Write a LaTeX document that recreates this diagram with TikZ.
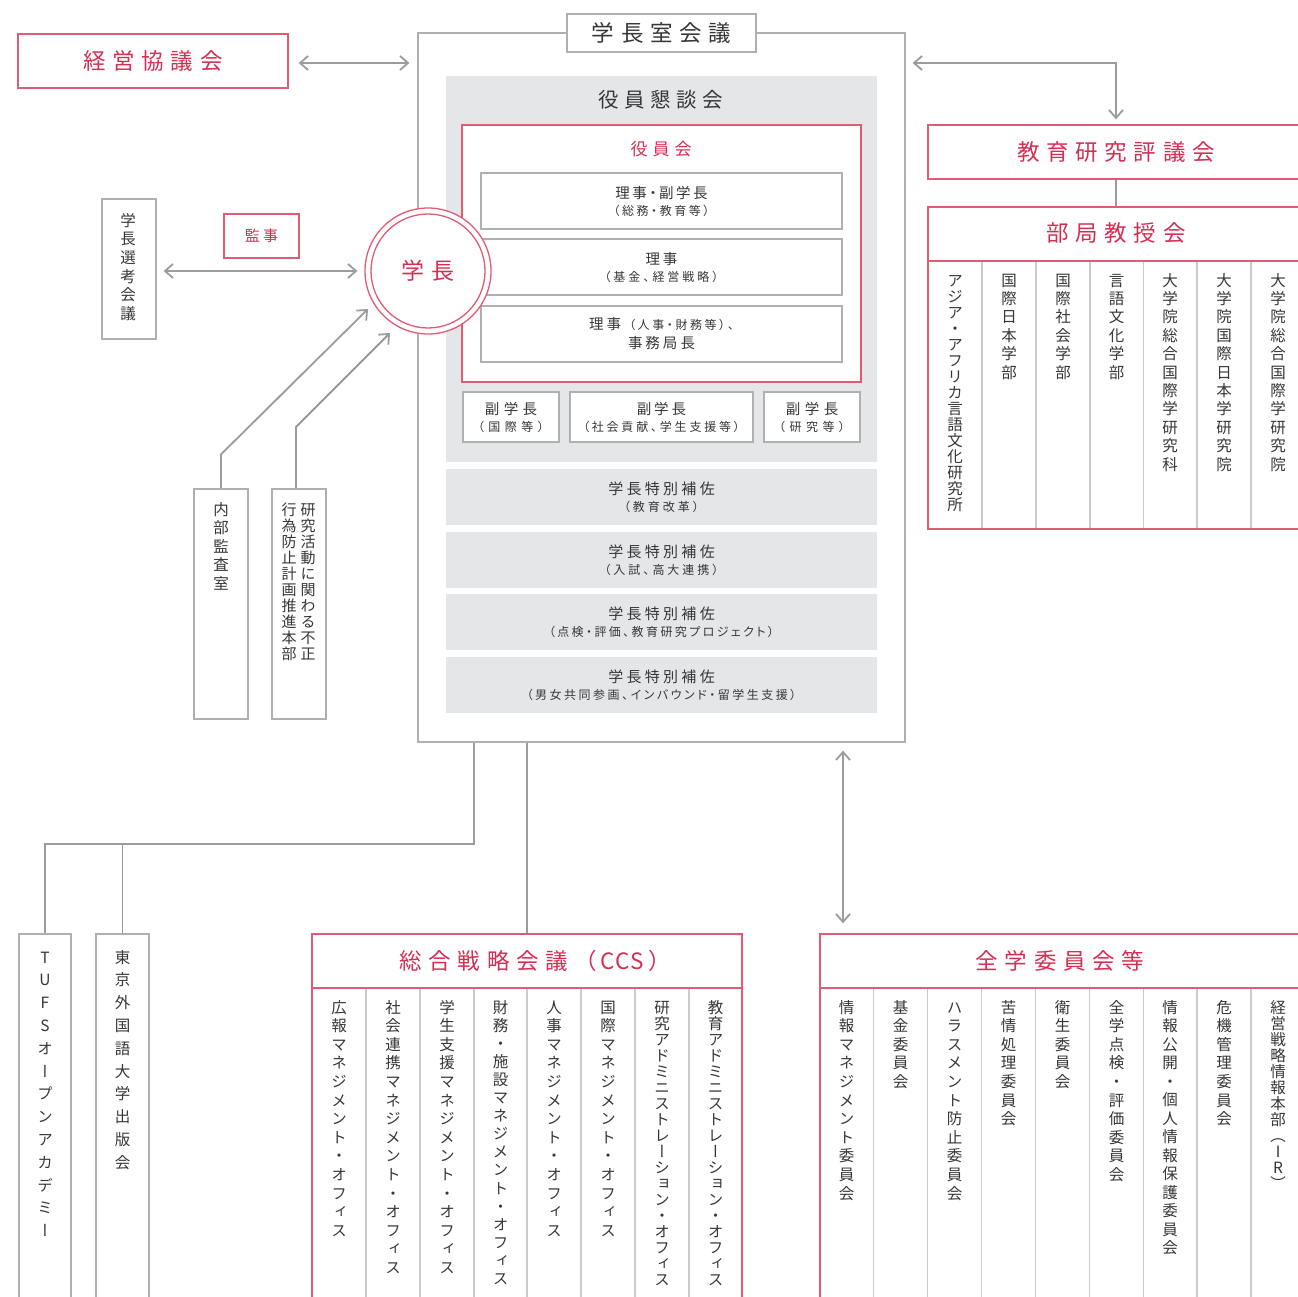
\documentclass[tikz,border=0pt]{standalone}
\usepackage{fontspec}
\setmainfont[RawFeature=+palt]{Noto Sans CJK JP}
\newfontfamily\jpvert[RawFeature=+vert]{Noto Sans CJK JP}
\usetikzlibrary{arrows.meta}
\definecolor{jred}{RGB}{214,46,82}
\definecolor{bred}{RGB}{224,92,116}
\definecolor{lgray}{RGB}{176,176,180}
\definecolor{cgray}{RGB}{155,155,160}
\definecolor{dgray}{RGB}{203,203,206}
\definecolor{fgray}{RGB}{229,230,232}
\definecolor{txt}{RGB}{55,55,55}
\def\jspk{0pt}
\newcommand\jsp[2]{\def\jspk{#1}\jsploop#2\relax\kern-\jspk\relax}
\def\jsploop#1{\ifx\relax#1\else#1\kern\jspk\relax\expandafter\jsploop\fi}
\newcommand\jvt[2]{\vtop{\baselineskip=#1\relax\lineskiplimit=-100pt\lineskip=0pt\relax\jvtloop#2\relax}}
\def\jvtloop#1{\ifx\relax#1\else\hbox to 1em{\hss#1\hss}\expandafter\jvtloop\fi}
\begin{document}
\begin{tikzpicture}[x=1pt,y=-1pt,
  redbox/.style={draw=bred,line width=1.4pt,fill=white,inner sep=0pt},
  graybox/.style={draw=lgray,line width=1.3pt,fill=white,inner sep=0pt},
  fillbox/.style={fill=fgray,inner sep=0pt},
  conn/.style={draw=cgray,line width=1.8pt},
  arr2/.style={conn,{Straight Barb[length=8pt,width=14pt]}-{Straight Barb[length=8pt,width=14pt]}},
  arr1/.style={conn,-{Straight Barb[length=8pt,width=14pt]}},
  divider/.style={draw=dgray,line width=1.3pt},
  redline/.style={draw=bred,line width=1.4pt},
  vcol/.style={anchor=base,inner sep=0pt,text=txt,font=\jpvert\fontsize{15.5}{15.5}\selectfont},
  ttl/.style={text=jred,font=\fontsize{22.5}{22.5}\selectfont,inner sep=0pt},
  two/.style={align=center,text=txt,font=\fontsize{14.5}{17}\selectfont},
]
\fill[white] (0,0) rectangle (1297,1297);
\useasboundingbox (0,0) rectangle (1297,1297);

% ---------- central frame ----------
\node[draw=lgray,line width=1.3pt,minimum width=487,minimum height=709,inner sep=0pt] (frame) at (661.5,387.5) {};
\node[fillbox,minimum width=431,minimum height=386] (kondan) at (661.5,269) {};
\node[text=txt,font=\fontsize{20.5}{20.5}\selectfont,inner sep=0pt] (kondant) at (661,100) {\jsp{5.5pt}{役員懇談会}};
\node[redbox,minimum width=399,minimum height=257] (yakuin) at (661.5,253.5) {};
\node[text=jred,font=\fontsize{17}{17}\selectfont,inner sep=0pt] (yakuint) at (661,149) {\jsp{5pt}{役員会}};

\node[graybox,two,minimum width=361,minimum height=56] (r1) at (661.5,201)
  {\jsp{2.5pt}{理事・副学長}\\{\fontsize{12}{17}\selectfont\jsp{2.6pt}{（総務・教育等）}}};
\node[graybox,two,minimum width=361,minimum height=56] (r2) at (661.5,267)
  {\jsp{3pt}{理事}\\{\fontsize{12}{17}\selectfont\jsp{3pt}{（基金、経営戦略）}}};
\node[graybox,two,minimum width=361,minimum height=56,font=\fontsize{14.5}{19}\selectfont] (r3) at (661.5,334)
  {\jsp{3pt}{理事}\kern8pt{\fontsize{12}{19}\selectfont\jsp{2.6pt}{（人事・財務等）、}}\\\jsp{3pt}{事務局長}};

\node[graybox,two,minimum width=96,minimum height=50] (f1) at (511,417)
  {\jsp{4.5pt}{副学長}\\{\fontsize{12}{17}\selectfont\jsp{4.5pt}{（国際等）}}};
\node[graybox,two,minimum width=183,minimum height=50] (f2) at (661.5,417)
  {\jsp{3pt}{副学長}\\{\fontsize{12}{17}\selectfont\jsp{2.8pt}{（社会貢献、学生支援等）}}};
\node[graybox,two,minimum width=96,minimum height=50] (f3) at (812,417)
  {\jsp{4.5pt}{副学長}\\{\fontsize{12}{17}\selectfont\jsp{4.5pt}{（研究等）}}};

\node[fillbox,two,minimum width=431,minimum height=56,font=\fontsize{15}{17}\selectfont] (h1) at (661.5,497)
  {\jsp{3.3pt}{学長特別補佐}\\{\fontsize{12}{17}\selectfont\jsp{3pt}{（教育改革）}}};
\node[fillbox,two,minimum width=431,minimum height=56,font=\fontsize{15}{17}\selectfont] (h2) at (661.5,560)
  {\jsp{3.3pt}{学長特別補佐}\\{\fontsize{12}{17}\selectfont\jsp{3pt}{（入試、高大連携）}}};
\node[fillbox,two,minimum width=431,minimum height=56,font=\fontsize{15}{17}\selectfont] (h3) at (661.5,622)
  {\jsp{3.3pt}{学長特別補佐}\\{\fontsize{12}{17}\selectfont\jsp{2.4pt}{（点検・評価、教育研究プロジェクト）}}};
\node[fillbox,two,minimum width=431,minimum height=56,font=\fontsize{15}{17}\selectfont] (h4) at (661.5,685)
  {\jsp{3.3pt}{学長特別補佐}\\{\fontsize{12}{17}\selectfont\jsp{2.5pt}{（男女共同参画、インバウンド・留学生支援）}}};

\node[graybox,text=txt,font=\fontsize{22.5}{22.5}\selectfont,minimum width=189,minimum height=38] (shitsu) at (661.5,33) {\jsp{6.7pt}{学長室会議}};

% ---------- president ----------
\node[circle,draw=bred,line width=1.3pt,fill=white,minimum size=126,inner sep=0pt] (gakucho) at (428,271) {};
\node[circle,draw=bred,line width=1.3pt,minimum size=114,inner sep=0pt] (gakuchoin) at (gakucho.center) {};
\node[ttl,font=\fontsize{23}{23}\selectfont] (gakuchot) at (gakucho.center) {\jsp{7pt}{学長}};

% ---------- left side ----------
\node[redbox,minimum width=270,minimum height=54,text=jred,font=\fontsize{22.5}{22.5}\selectfont] (keiei) at (153,61) {\jsp{6.7pt}{経営協議会}};
\node[redbox,minimum width=75,minimum height=44,text=jred,font=\fontsize{15}{15}\selectfont] (kanji) at (261.5,236) {\jsp{3.5pt}{監事}};
\node[graybox,minimum width=54,minimum height=140] (senko) at (129,269) {};
\node[vcol] (senkot) at (128,226) {\jvt{18.7pt}{学長選考会議}};
\node[graybox,minimum width=54,minimum height=230] (naibu) at (221,604) {};
\node[vcol] (naibut) at (221,515) {\jvt{18.6pt}{内部監査室}};
\node[graybox,minimum width=54,minimum height=230] (kenkyu) at (299,604) {};
\node[vcol,font=\jpvert\fontsize{15}{15}\selectfont] (kenkyut1) at (308,515) {\jvt{16pt}{研究活動に関わる不正}};
\node[vcol,font=\jpvert\fontsize{15}{15}\selectfont] (kenkyut2) at (289,515) {\jvt{16pt}{行為防止計画推進本部}};

% ---------- right side ----------
\node[redbox,minimum width=376,minimum height=54,text=jred,font=\fontsize{22.5}{22.5}\selectfont] (kyoiku) at (1116,152) {\jsp{6.7pt}{教育研究評議会}};
\node[redbox,minimum width=376,minimum height=322] (bukyoku) at (1116,368) {};
\coordinate (bkh) at (0,261);
\draw[redline] (bukyoku.west |- bkh) -- (bukyoku.east |- bkh);
\node[ttl] (bukyokut) at (1116,233) {\jsp{6.7pt}{部局教授会}};
\foreach \x in {982,1036,1090,1143.5,1197,1251} \draw[divider] (\x,262) -- (\x,528);
\node[vcol] (bk1) at (955,286) {\jvt{16pt}{アジア・アフリカ言語文化研究所}};
\node[vcol] (bk2) at (1009,286) {\jvt{18.4pt}{国際日本学部}};
\node[vcol] (bk3) at (1063,286) {\jvt{18.4pt}{国際社会学部}};
\node[vcol] (bk4) at (1116.5,286) {\jvt{18.4pt}{言語文化学部}};
\node[vcol] (bk5) at (1170,286) {\jvt{18.4pt}{大学院総合国際学研究科}};
\node[vcol] (bk6) at (1224,286) {\jvt{18.4pt}{大学院国際日本学研究院}};
\node[vcol] (bk7) at (1278,286) {\jvt{18.4pt}{大学院総合国際学研究院}};

% ---------- bottom ----------
\node[graybox,minimum width=52,minimum height=376] (tufs) at (45,1122) {};
\node[vcol] (tufst) at (45,963) {\jvt{22.8pt}{TUFSオープンアカデミー}};
\node[graybox,minimum width=53,minimum height=376] (tokyo) at (122.5,1122) {};
\node[vcol] (tokyot) at (122.5,963) {\jvt{22.8pt}{東京外国語大学出版会}};

\node[redbox,minimum width=430,minimum height=376] (ccs) at (527,1122) {};
\coordinate (hy) at (0,988);
\draw[redline] (ccs.west |- hy) -- (ccs.east |- hy);
\node[ttl] (ccst) at (530,961) {\jsp{6.7pt}{総合戦略会議}\kern17pt（\kern4pt C\kern1pt C\kern1pt S\kern5pt）};
\foreach \x in {366,420,474,527,581,635,689} \draw[divider] (\x,989) -- (\x,1310);
\node[vcol] (cc1) at (339,1013) {\jvt{18.6pt}{広報マネジメント・オフィス}};
\node[vcol] (cc2) at (393,1013) {\jvt{18.6pt}{社会連携マネジメント・オフィス}};
\node[vcol] (cc3) at (447,1013) {\jvt{18.6pt}{学生支援マネジメント・オフィス}};
\node[vcol] (cc4) at (500.5,1013) {\jvt{18.1pt}{財務・施設マネジメント・オフィス}};
\node[vcol] (cc5) at (554,1013) {\jvt{18.6pt}{人事マネジメント・オフィス}};
\node[vcol] (cc6) at (608,1013) {\jvt{18.6pt}{国際マネジメント・オフィス}};
\node[vcol] (cc7) at (662,1013) {\jvt{16pt}{研究アドミニストレーション・オフィス}};
\node[vcol] (cc8) at (715.5,1013) {\jvt{16pt}{教育アドミニストレーション・オフィス}};

\node[redbox,minimum width=480,minimum height=376] (zengaku) at (1060,1122) {};
\draw[redline] (zengaku.west |- hy) -- (zengaku.east |- hy);
\node[ttl] (zengakut) at (1060,961) {\jsp{6.7pt}{全学委員会等}};
\foreach \x in {873.5,927.5,981.5,1035.5,1089.5,1143.5,1197,1251} \draw[divider] (\x,989) -- (\x,1310);
\node[vcol] (zg1) at (846.7,1013) {\jvt{18.6pt}{情報マネジメント委員会}};
\node[vcol] (zg2) at (900.5,1013) {\jvt{18.6pt}{基金委員会}};
\node[vcol] (zg3) at (954.5,1013) {\jvt{18.6pt}{ハラスメント防止委員会}};
\node[vcol] (zg4) at (1008.5,1013) {\jvt{18.6pt}{苦情処理委員会}};
\node[vcol] (zg5) at (1062.5,1013) {\jvt{18.6pt}{衛生委員会}};
\node[vcol] (zg6) at (1116.5,1013) {\jvt{18.6pt}{全学点検・評価委員会}};
\node[vcol] (zg7) at (1170,1013) {\jvt{18.5pt}{情報公開・個人情報保護委員会}};
\node[vcol] (zg8) at (1224,1013) {\jvt{18.6pt}{危機管理委員会}};
\node[vcol] (zg9) at (1278,1013) {\jvt{16pt}{経営戦略情報本部（IR）}};

% ---------- connectors ----------
\coordinate (y63) at (0,63);
\draw[arr2,shorten <=10pt,shorten >=8pt] (keiei.east |- y63) -- (frame.west |- y63);
\draw[arr2,shorten <=7pt,shorten >=5pt] (frame.east |- y63) -| (kyoiku.north);
\draw[conn] (kyoiku.south) -- (bukyoku.north);
\draw[arr2,shorten <=7pt,shorten >=7pt] (senko.east |- gakucho.west) -- (gakucho.west);
\coordinate (t1) at (368,309);
\coordinate (t2) at (390,333);
\coordinate (k2) at (296,427);
\draw[arr1] (naibu.north) -- ++(0,-34) -- (t1);
\draw[arr1] (kenkyu.north -| k2) -- (k2) -- (t2);
\coordinate (j1) at (474,844);
\draw[conn] (j1 |- frame.south) -- (j1) -| (tufs.north);
\draw[conn] (j1 -| tokyo.north) -- (tokyo.north);
\draw[conn] (ccs.north |- frame.south) -- (ccs.north);
\coordinate (x843) at (843,0);
\draw[arr2,shorten <=8pt,shorten >=10pt] (x843 |- frame.south) -- (x843 |- zengaku.north);
\end{tikzpicture}
\end{document}
